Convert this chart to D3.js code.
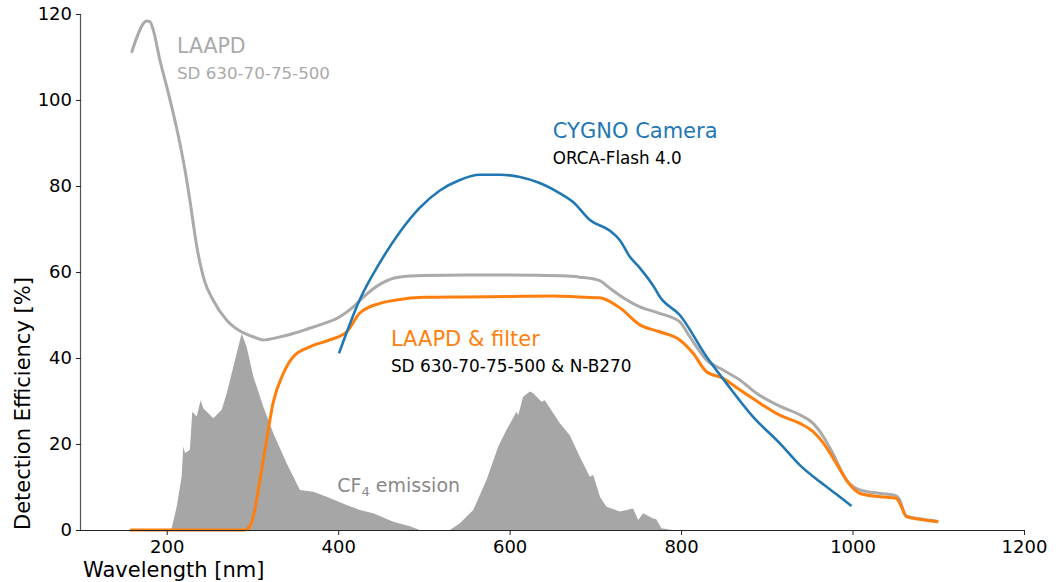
<!DOCTYPE html>
<html>
<head>
<meta charset="utf-8">
<script src="https://cdn.jsdelivr.net/npm/d3@7"></script>
<style>
  body { margin: 0; background: #fff; }
  text { font-family: "DejaVu Sans", sans-serif; }
</style>
</head>
<body>
<div id="chart"></div>
<script>
// Data (wavelength in nm, value in %)
var laapdNm = [159, 165, 172.7, 176.6, 180.5, 184.3, 192, 200, 207.6, 215.4, 221.3, 227, 235, 244, 254, 270, 287, 300, 312.6, 330, 347.6, 365, 378.7, 402, 417.6, 430, 450, 470, 500, 550, 600, 660, 682, 705, 717, 729, 752, 775, 798.5, 810, 830, 849, 868.5, 888, 915, 938.5, 954, 966, 977, 993, 1008.5, 1032, 1049, 1055, 1062, 1078, 1100];
var laapdVal = [111, 114.5, 117.8, 118.4, 118.2, 116.3, 109.3, 103.1, 96.9, 89.9, 83.7, 76.7, 66, 58, 53.5, 48.8, 46.1, 45, 44.2, 44.8, 45.7, 46.8, 47.7, 49.6, 51.9, 54.3, 57.3, 58.8, 59.2, 59.3, 59.3, 59.1, 58.8, 58, 56.2, 54.5, 51.9, 50.4, 48.4, 45, 39.5, 37.2, 34.9, 31.8, 28.8, 26.8, 24.8, 21.7, 17.8, 11.6, 9.3, 8.5, 8.1, 7, 3.3, 2.6, 2.0];

var filterNm = [157, 200, 250, 290, 295, 301, 308.7, 316.5, 324, 336, 347.6, 367, 390, 410, 425, 448.7, 468, 500, 550, 600, 650, 680, 705, 729, 752, 775, 798.5, 814, 829.7, 849, 868.5, 892, 915, 938.5, 954, 966, 981, 997, 1008.5, 1032, 1051, 1057, 1063, 1078, 1100];
var filterVal = [0, 0, 0, 0, 0.4, 3.1, 11.6, 20.9, 29.5, 36.4, 40.3, 42.6, 44.2, 46.1, 50.4, 52.7, 53.5, 54.1, 54.2, 54.3, 54.4, 54.2, 54, 51.6, 47.7, 46.1, 44.2, 41.1, 36.8, 35.3, 32.6, 29.5, 26.7, 24.8, 22.9, 20.2, 15.5, 10.5, 8.5, 7.75, 7.4, 5.4, 3.1, 2.5, 1.9];

var cameraNm = [401, 425, 449, 472, 495, 519, 542, 565, 589, 612, 635, 658.6, 674, 693.6, 717, 728.6, 740, 752, 769.4, 775, 798.5, 829.7, 853, 884, 915, 938.5, 962, 985, 998.8];
var cameraVal = [41.1, 53.5, 62.3, 69.3, 74.9, 79, 81.4, 82.6, 82.6, 82.1, 80.7, 78.3, 76.3, 72.1, 69.6, 67.4, 63.6, 60.9, 56.2, 54.3, 50, 40.3, 34.1, 26.3, 20.2, 15.1, 11.2, 7.75, 5.6];

var cf4Nm = [203, 205.8, 211.6, 217.4, 219.3, 221.3, 227, 229.8, 235, 239.6, 242.6, 254.3, 264, 270, 281.6, 287.4, 293.2, 301, 312.6, 324.3, 339.9, 355.4, 371, 386.5, 409.8, 425.4, 440.9, 464.2, 483.7, 495, 530.3, 542, 557.5, 573, 586.7, 596.4, 608, 610, 615.8, 623.6, 627.5, 637.2, 641, 658.6, 670, 682, 693.6, 697.5, 705.3, 713, 728.6, 744, 750, 755.7, 767.4, 771, 777, 790];
var cf4Val = [0, 0.4, 5.4, 12.4, 19.4, 17.9, 18.6, 27.5, 26.4, 30.2, 28.3, 26, 27.9, 31.8, 41.1, 45.7, 42.6, 35.7, 28.7, 22.5, 15.5, 9.3, 8.9, 7.75, 5.8, 4.65, 3.9, 1.9, 0.9, 0, 0, 1.55, 4.65, 11.6, 19.4, 23.3, 27.5, 26.7, 31, 32.2, 31.8, 29.8, 30.2, 24.8, 22.1, 17, 12.4, 12.8, 7.75, 5.4, 4.3, 5.0, 2.3, 3.9, 2.7, 2.5, 0.4, 0];

var xTicks = [200, 400, 600, 800, 1000, 1200];
var yTicks = [0, 20, 40, 60, 80, 100, 120];

// Set up the svg params
var svgWidth = 1064;
var svgHeight = 582;
var margin = { top: 14, right: 40, bottom: 52, left: 81 };
var width = svgWidth - margin.left - margin.right;
var height = svgHeight - margin.top - margin.bottom;

var svg = d3.select("#chart").append("svg")
    .attr("width", svgWidth)
    .attr("height", svgHeight);

var chartGroup = svg.append("g")
    .attr("transform", `translate(${margin.left}, ${margin.top})`);

var xScale = d3.scaleLinear().domain([100, 1200]).range([0, width]);
var yScale = d3.scaleLinear().domain([0, 120]).range([height, 0]);

function zip(xs, ys) {
    return xs.map((x, i) => [x, ys[i]]);
}

// CF4 emission fill
var area = d3.area()
    .x(d => xScale(d[0]))
    .y0(yScale(0))
    .y1(d => yScale(d[1]));

chartGroup.append("path")
    .datum(zip(cf4Nm, cf4Val))
    .attr("fill", "#a6a6a6")
    .attr("d", area);

// smooth the sparse readings a little, the original curves are dense
var line = d3.line()
    .curve(d3.curveMonotoneX)
    .x(d => xScale(d[0]))
    .y(d => yScale(d[1]));

chartGroup.append("path")
    .datum(zip(laapdNm, laapdVal))
    .attr("fill", "none")
    .attr("stroke", "#aaaaaa")
    .attr("stroke-width", 3)
    .attr("stroke-linejoin", "round")
    .attr("d", line);

chartGroup.append("path")
    .datum(zip(filterNm, filterVal))
    .attr("fill", "none")
    .attr("stroke", "#ff7f0e")
    .attr("stroke-width", 3)
    .attr("stroke-linejoin", "round")
    .attr("d", line);

chartGroup.append("path")
    .datum(zip(cameraNm, cameraVal))
    .attr("fill", "none")
    .attr("stroke", "#1f77b4")
    .attr("stroke-width", 2.6)
    .attr("stroke-linejoin", "round")
    .attr("d", line);

// Axes
var bottomAxis = d3.axisBottom(xScale).tickValues(xTicks).tickFormat(d3.format("d")).tickSize(5).tickPadding(5);
var leftAxis = d3.axisLeft(yScale).tickValues(yTicks).tickFormat(d3.format("d")).tickSize(5).tickPadding(4);

var xAxisG = chartGroup.append("g")
    .attr("transform", `translate(0, ${height})`)
    .call(bottomAxis);
var yAxisG = chartGroup.append("g")
    .call(leftAxis);

[xAxisG, yAxisG].forEach(g => {
    g.select(".domain").attr("stroke", "#222").attr("stroke-width", 1.2);
    g.selectAll(".tick line").attr("stroke", "#222").attr("stroke-width", 1);
    g.selectAll(".tick text")
        .attr("fill", "#000")
        .style("font-size", "18px")
        .style("font-family", "DejaVu Sans");
});
// strip d3's outer tick stubs to mimic the plain spines
xAxisG.select(".domain").attr("d", `M0,0.5H${width}`);
yAxisG.select(".domain").attr("stroke", "#555").attr("d", `M-0.5,0V${height}`);

// Axis labels
chartGroup.append("text")
    .attr("x", 2)
    .attr("y", height + 47)
    .style("font-size", "21px")
    .text("Wavelength [nm]");

chartGroup.append("text")
    .attr("transform", "rotate(-90)")
    .attr("x", -height)
    .attr("y", -51)
    .style("font-size", "21px")
    .text("Detection Efficiency [%]");

// Annotations
function label(nm, val, txt, size, color) {
    return chartGroup.append("text")
        .attr("x", xScale(nm))
        .attr("y", yScale(val))
        .attr("fill", color)
        .style("font-size", size + "px")
        .text(txt);
}

label(212, 111, "LAAPD", 20.5, "#aaaaaa");
label(212, 104.9, "SD 630-70-75-500", 16.7, "#aaaaaa");
label(650.4, 91.2, "CYGNO Camera", 21, "#1f77b4");
label(650.4, 85.1, "ORCA-Flash 4.0", 16.8, "#000");
label(461.5, 42.8, "LAAPD & filter", 21, "#ff7f0e");
label(461.5, 36.8, "SD 630-70-75-500 & N-B270", 16.9, "#000");

var cf4 = label(399, 8.9, "CF", 19, "#888888");
cf4.append("tspan").attr("dy", 4).style("font-size", "13px").text("4");
cf4.append("tspan").attr("dy", -4).text(" emission");
</script>
</body>
</html>
